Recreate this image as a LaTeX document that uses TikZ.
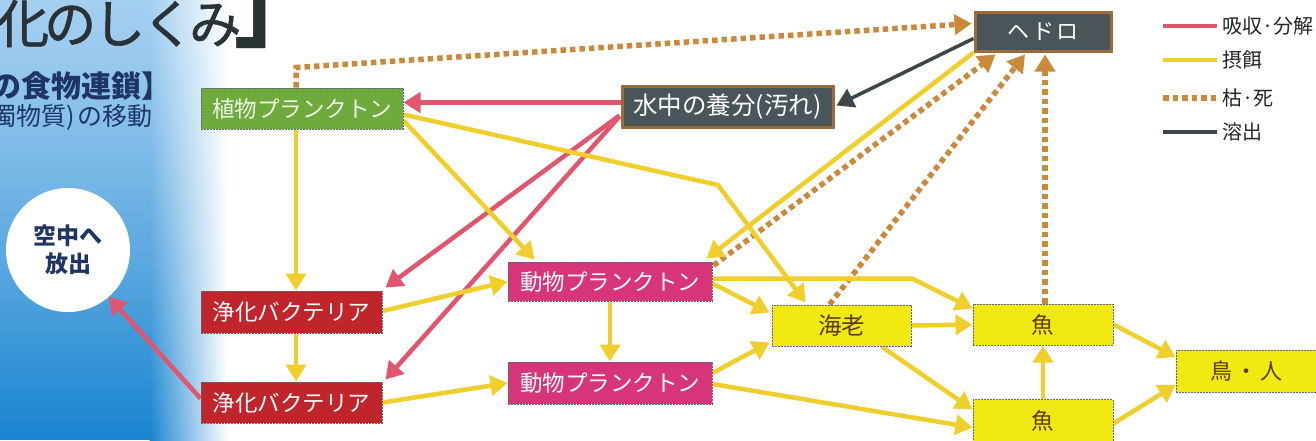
\documentclass[tikz,border=0pt]{standalone}
\usepackage{fontspec}
\setmainfont{Noto Sans CJK JP}
\usetikzlibrary{arrows.meta,calc}
\definecolor{cgreen}{HTML}{6FAA3C}
\definecolor{cred}{HTML}{C0252C}
\definecolor{cmag}{HTML}{D6357A}
\definecolor{cyelbox}{HTML}{F2E812}
\definecolor{cdark}{HTML}{4A5559}
\definecolor{cbrown}{HTML}{9C6B3A}
\definecolor{cedge}{HTML}{5C6878}
\definecolor{cpink}{HTML}{E0566F}
\definecolor{cyel}{HTML}{F0CE2C}
\definecolor{corange}{HTML}{CA8A3C}
\definecolor{cdline}{HTML}{3C464B}
\definecolor{ctitle}{HTML}{2B3236}
\definecolor{cnavy}{HTML}{1E3566}
\definecolor{cbtext}{HTML}{5A3C0E}
\definecolor{bgtop}{HTML}{A3CFF0}
\definecolor{bgbot}{HTML}{1A85D0}
\pgfdeclarelayer{back}
\pgfdeclarelayer{lines}
\pgfsetlayers{back,lines,main}
\tikzset{
  box/.style={draw=cedge, dash pattern=on 2pt off 1pt, line width=1pt, inner sep=0pt,
    font=\fontsize{22.5}{24}\selectfont},
  greenbox/.style={box, fill=cgreen, text=white!88!cgreen},
  redbox/.style={box, fill=cred, text=white},
  magbox/.style={box, fill=cmag, text=white},
  yelbox/.style={box, fill=cyelbox, text=cbtext},
  darkbox/.style={draw=cbrown, line width=3pt, fill=cdark, text=white, inner sep=0pt,
    font=\fontsize{22.5}{24}\selectfont},
  tipc/.style={-{Triangle[length=17pt,width=20pt]}},
  pinkln/.style={draw=cpink, line width=4.5pt, tipc},
  yelln/.style={draw=cyel, line width=4.5pt, tipc},
  darkln/.style={draw=cdline, line width=3.5pt, tipc},
  dotln/.style={draw=corange, line width=5.5pt, dash pattern=on 5.5pt off 4pt, tipc},
  legtext/.style={anchor=west, inner sep=0pt, text=black!85, font=\fontsize{20}{22}\selectfont},
}
\begin{document}
\begin{tikzpicture}[x=1pt,y=-1pt]
\useasboundingbox (0,0) rectangle (1316,440);
% background
\begin{pgfonlayer}{back}
\fill[white] (0,0) rectangle (1316,440);
\foreach \i in {0,...,43}{
  \pgfmathsetmacro\p{100*(\i/43)^1.2}
  \colorlet{bandc}{bgbot!\p!bgtop}
  \fill[bandc] (0,10*\i-0.4) rectangle (150,10*\i+10.4);
  \shade[left color=bandc,right color=white] (149.6,10*\i-0.4) rectangle (228,10*\i+10.4);
}
\end{pgfonlayer}
% title texts
\node[anchor=base west, inner sep=0pt, text height=40pt, text=ctitle, font=\addfontfeature{FakeBold=1.2}\fontsize{52}{54}\selectfont] (title) at (-3,43) {化\kern-5pt の\kern-3pt し\kern-3pt く\kern-5pt み};
\node[anchor=base west, inner sep=0pt, text height=38pt, text=ctitle, font=\bfseries\fontsize{86}{88}\selectfont] (tbr) at (234,40) {」};
\node[anchor=base west, inner sep=0pt, text=cnavy, font=\bfseries\fontsize{30}{32}\selectfont] (sub1) at (-9,97) {の食物連鎖】};
\node[anchor=base west, inner sep=0pt, text=cnavy, font=\fontsize{25}{27}\selectfont] (sub2) at (-9,125) {濁物質)\kern3pt の移動};
% circle
\node[circle, fill=white, minimum size=124pt, inner sep=0pt, align=center, text=cnavy,
  font=\bfseries\fontsize{23}{28}\selectfont] (air) at (68,250) {空中へ\\放出};
% boxes
\node[greenbox, minimum width=202pt, minimum height=41pt] (plantP) at (302,108.5) {植物プランクトン};
\node[darkbox, minimum width=211pt, minimum height=41pt, font=\fontsize{24.5}{26}\selectfont] (nutr) at (727.5,106.5) {水中の養分(汚れ)};
\node[darkbox, minimum width=136pt, minimum height=39pt, font=\fontsize{22}{24}\selectfont] (hedoro) at (1043,31.5) {ヘ\kern3pt ド\kern3pt ロ};
\node[redbox, minimum width=181pt, minimum height=42pt] (bac1) at (291.5,312) {浄化バクテリア};
\node[redbox, minimum width=181pt, minimum height=41pt] (bac2) at (291.5,402.5) {浄化バクテリア};
\node[magbox, minimum width=204pt, minimum height=39pt] (zoo1) at (610,281.5) {動物プランクトン};
\node[magbox, minimum width=204pt, minimum height=42pt] (zoo2) at (610,383) {動物プランクトン};
\node[yelbox, minimum width=139pt, minimum height=41pt, font=\fontsize{23.5}{25}\selectfont] (ebi) at (841.5,325.5) {海老};
\node[yelbox, minimum width=140pt, minimum height=41pt] (fish1) at (1043,324.5) {魚};
\node[yelbox, minimum width=140pt, minimum height=42pt] (fish2) at (1043,420.5) {魚};
\node[yelbox, minimum width=140pt, minimum height=42pt, font=\fontsize{22}{24}\selectfont] (bird) at (1246,371) {鳥\kern3pt ・\kern3pt 人};
% legend
\node[legtext] (lg1) at (1222,26) {吸収·分解};
\node[legtext] (lg2) at (1222,60) {摂餌};
\node[legtext] (lg3) at (1222,98) {枯·死};
\node[legtext] (lg4) at (1222,132) {溶出};
% bend points
\coordinate (k1) at (718,185);
\coordinate (k2) at (912,278.5);
\begin{pgfonlayer}{lines}
\draw[draw=cpink, line width=4.5pt] ($(lg1.west)+(-59,0)$) -- ($(lg1.west)+(-5,0)$);
\draw[draw=cyel, line width=4.5pt] ($(lg2.west)+(-59,0)$) -- ($(lg2.west)+(-5,0)$);
\draw[draw=corange, line width=5.5pt, dash pattern=on 5.5pt off 4pt] ($(lg3.west)+(-59,0)$) -- ($(lg3.west)+(-4,0)$);
\draw[draw=cdline, line width=3.5pt] ($(lg4.west)+(-59,0)$) -- ($(lg4.west)+(-5,0)$);
% dotted (dead)
\draw[dotln] ($(plantP.north)+(-6,0)$) -- ++(0,-20) -- ($(hedoro.west)+(-2,-8)$);
\draw[dotln] ($(zoo1.north east)+(1,4)$) -- ($(hedoro.south west)+(22,2)$);
\draw[dotln] ($(ebi.north west)+(58,0)$) -- ($(hedoro.south)+(-18,2)$);
\draw[dotln] ($(fish1.north)+(2,0)$) -- ($(hedoro.south)+(2,2)$);
% dissolve
\draw[darkln] ($(hedoro.west)+(0,7)$) -- ($(nutr.east)+(2,-1)$);
% absorb
\draw[pinkln] ($(nutr.west)+(0,-4)$) -- ($(plantP.east)+(0,-6)$);
\draw[pinkln] ($(nutr.west)+(-1,9)$) -- ($(bac1.north east)+(3,-3)$);
\draw[pinkln] ($(nutr.west)+(-1,10)$) -- ($(bac2.north east)+(3,-2)$);
\draw[pinkln] ($(bac2.west)+(0,-4)$) -- (air.-49);
% feeding
\draw[yelln] ($(plantP.south)+(-6,0)$) -- ($(bac1.north)+(4.5,0)$);
\draw[yelln] ($(bac1.south)+(4.5,0)$) -- ($(bac2.north)+(4.5,0)$);
\draw[yelln] ($(plantP.east)+(0,12)$) -- ($(zoo1.north west)+(27,-2)$);
\draw[yelln] ($(plantP.east)+(0,6)$) -- (k1) -- ($(ebi.north west)+(34,-2)$);
\draw[yelln] ($(bac1.east)+(0,-1)$) -- (zoo1.west);
\draw[yelln] (bac2.east) -- (zoo2.west);
\draw[yelln] (zoo1.south) -- (zoo2.north);
\draw[yelln] ($(zoo1.east)+(0,2)$) -- ($(ebi.west)+(-2,-13)$);
\draw[yelln] ($(zoo1.east)+(0,-3)$) -- (k2) -- ($(fish1.west)+(0,-16)$);
\draw[yelln] ($(zoo2.east)+(0,-10)$) -- ($(ebi.west)+(-2,17)$);
\draw[yelln] ($(zoo2.east)+(0,1)$) -- ($(fish2.west)+(0,7)$);
\draw[yelln] (ebi.east) -- (fish1.west);
\draw[yelln] ($(ebi.south east)+(-30,0)$) -- ($(fish2.west)+(0,-11)$);
\draw[yelln] (fish2.north) -- (fish1.south);
\draw[yelln] (fish1.east) -- ($(bird.west)+(0,-14)$);
\draw[yelln] ($(fish2.east)+(0,3)$) -- ($(bird.west)+(0,14)$);
\draw[yelln] (hedoro.south west) -- ($(zoo1.north east)+(-6,-3)$);
\end{pgfonlayer}
\end{tikzpicture}
\end{document}
